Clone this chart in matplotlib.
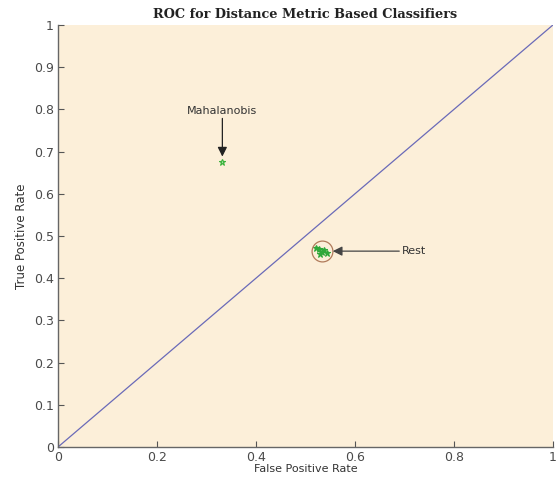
import matplotlib
matplotlib.use('Agg')
import matplotlib.pyplot as plt
import numpy as np

# points
maha_fpr = [0.332]
maha_tpr = [0.676]
rest_fpr = [0.522, 0.528, 0.533, 0.538, 0.543, 0.530]
rest_tpr = [0.472, 0.468, 0.463, 0.466, 0.460, 0.458]

xticks = [0, 0.2, 0.4, 0.6, 0.8, 1]
yticks = [0, 0.1, 0.2, 0.3, 0.4, 0.5, 0.6, 0.7, 0.8, 0.9, 1]

fig = plt.figure(figsize=(5.59, 4.78), dpi=100)
ax = fig.add_axes([0.1038, 0.0649, 0.8855, 0.883])
ax.set_facecolor('#fcefd9')

# chance line
ax.plot([0, 1], [0, 1], color='#6a6ab8', lw=0.9)

ax.plot(maha_fpr, maha_tpr, '*', color='#3cb33c', ms=5, mfc='#9fe09f', mew=0.8)
ax.plot(rest_fpr, rest_tpr, '*', color='#2fa83a', ms=5, mew=0.8)
ax.plot([0.533], [0.464], 'o', ms=15, mfc='none', mec='#b07a5a', mew=0.9)

ax.annotate('Mahalanobis', xy=(0.332, 0.688), xytext=(0.332, 0.785),
            ha='center', va='bottom', fontsize=8, color='#333333',
            arrowprops=dict(arrowstyle='-|>', color='#222222', lw=0.9,
                            mutation_scale=14, shrinkA=0, shrinkB=0))
ax.annotate('Rest', xy=(0.555, 0.464), xytext=(0.695, 0.464),
            ha='left', va='center', fontsize=8, color='#333333',
            arrowprops=dict(arrowstyle='-|>', color='#444444', lw=0.9,
                            mutation_scale=14, shrinkA=0, shrinkB=0))

ax.set_xlim(0, 1)
ax.set_ylim(0, 1)
ax.set_xticks(xticks)
ax.set_xticklabels(['0', '0.2', '0.4', '0.6', '0.8', '1'])
ax.set_yticks(yticks)
ax.set_yticklabels(['0', '0.1', '0.2', '0.3', '0.4', '0.5', '0.6', '0.7', '0.8', '0.9', '1'])
ax.tick_params(direction='in', length=4, width=0.8, colors='#555555', labelsize=9, pad=3)
ax.tick_params(labelcolor='#4a4a4a')
for s in ['top', 'right']:
    ax.spines[s].set_visible(False)
for s in ['left', 'bottom']:
    ax.spines[s].set_color('#666666')
    ax.spines[s].set_linewidth(1.0)

ax.set_xlabel('False Positive Rate', fontsize=8, color='#333333', labelpad=0)
ax.set_ylabel('True Positive Rate', fontsize=8.5, color='#333333', labelpad=4)
ax.set_title('ROC for Distance Metric Based Classifiers', fontsize=9.3, fontweight='bold',
             family='DejaVu Serif', color='#222222', pad=5)

fig.savefig('out.png', dpi=100)
